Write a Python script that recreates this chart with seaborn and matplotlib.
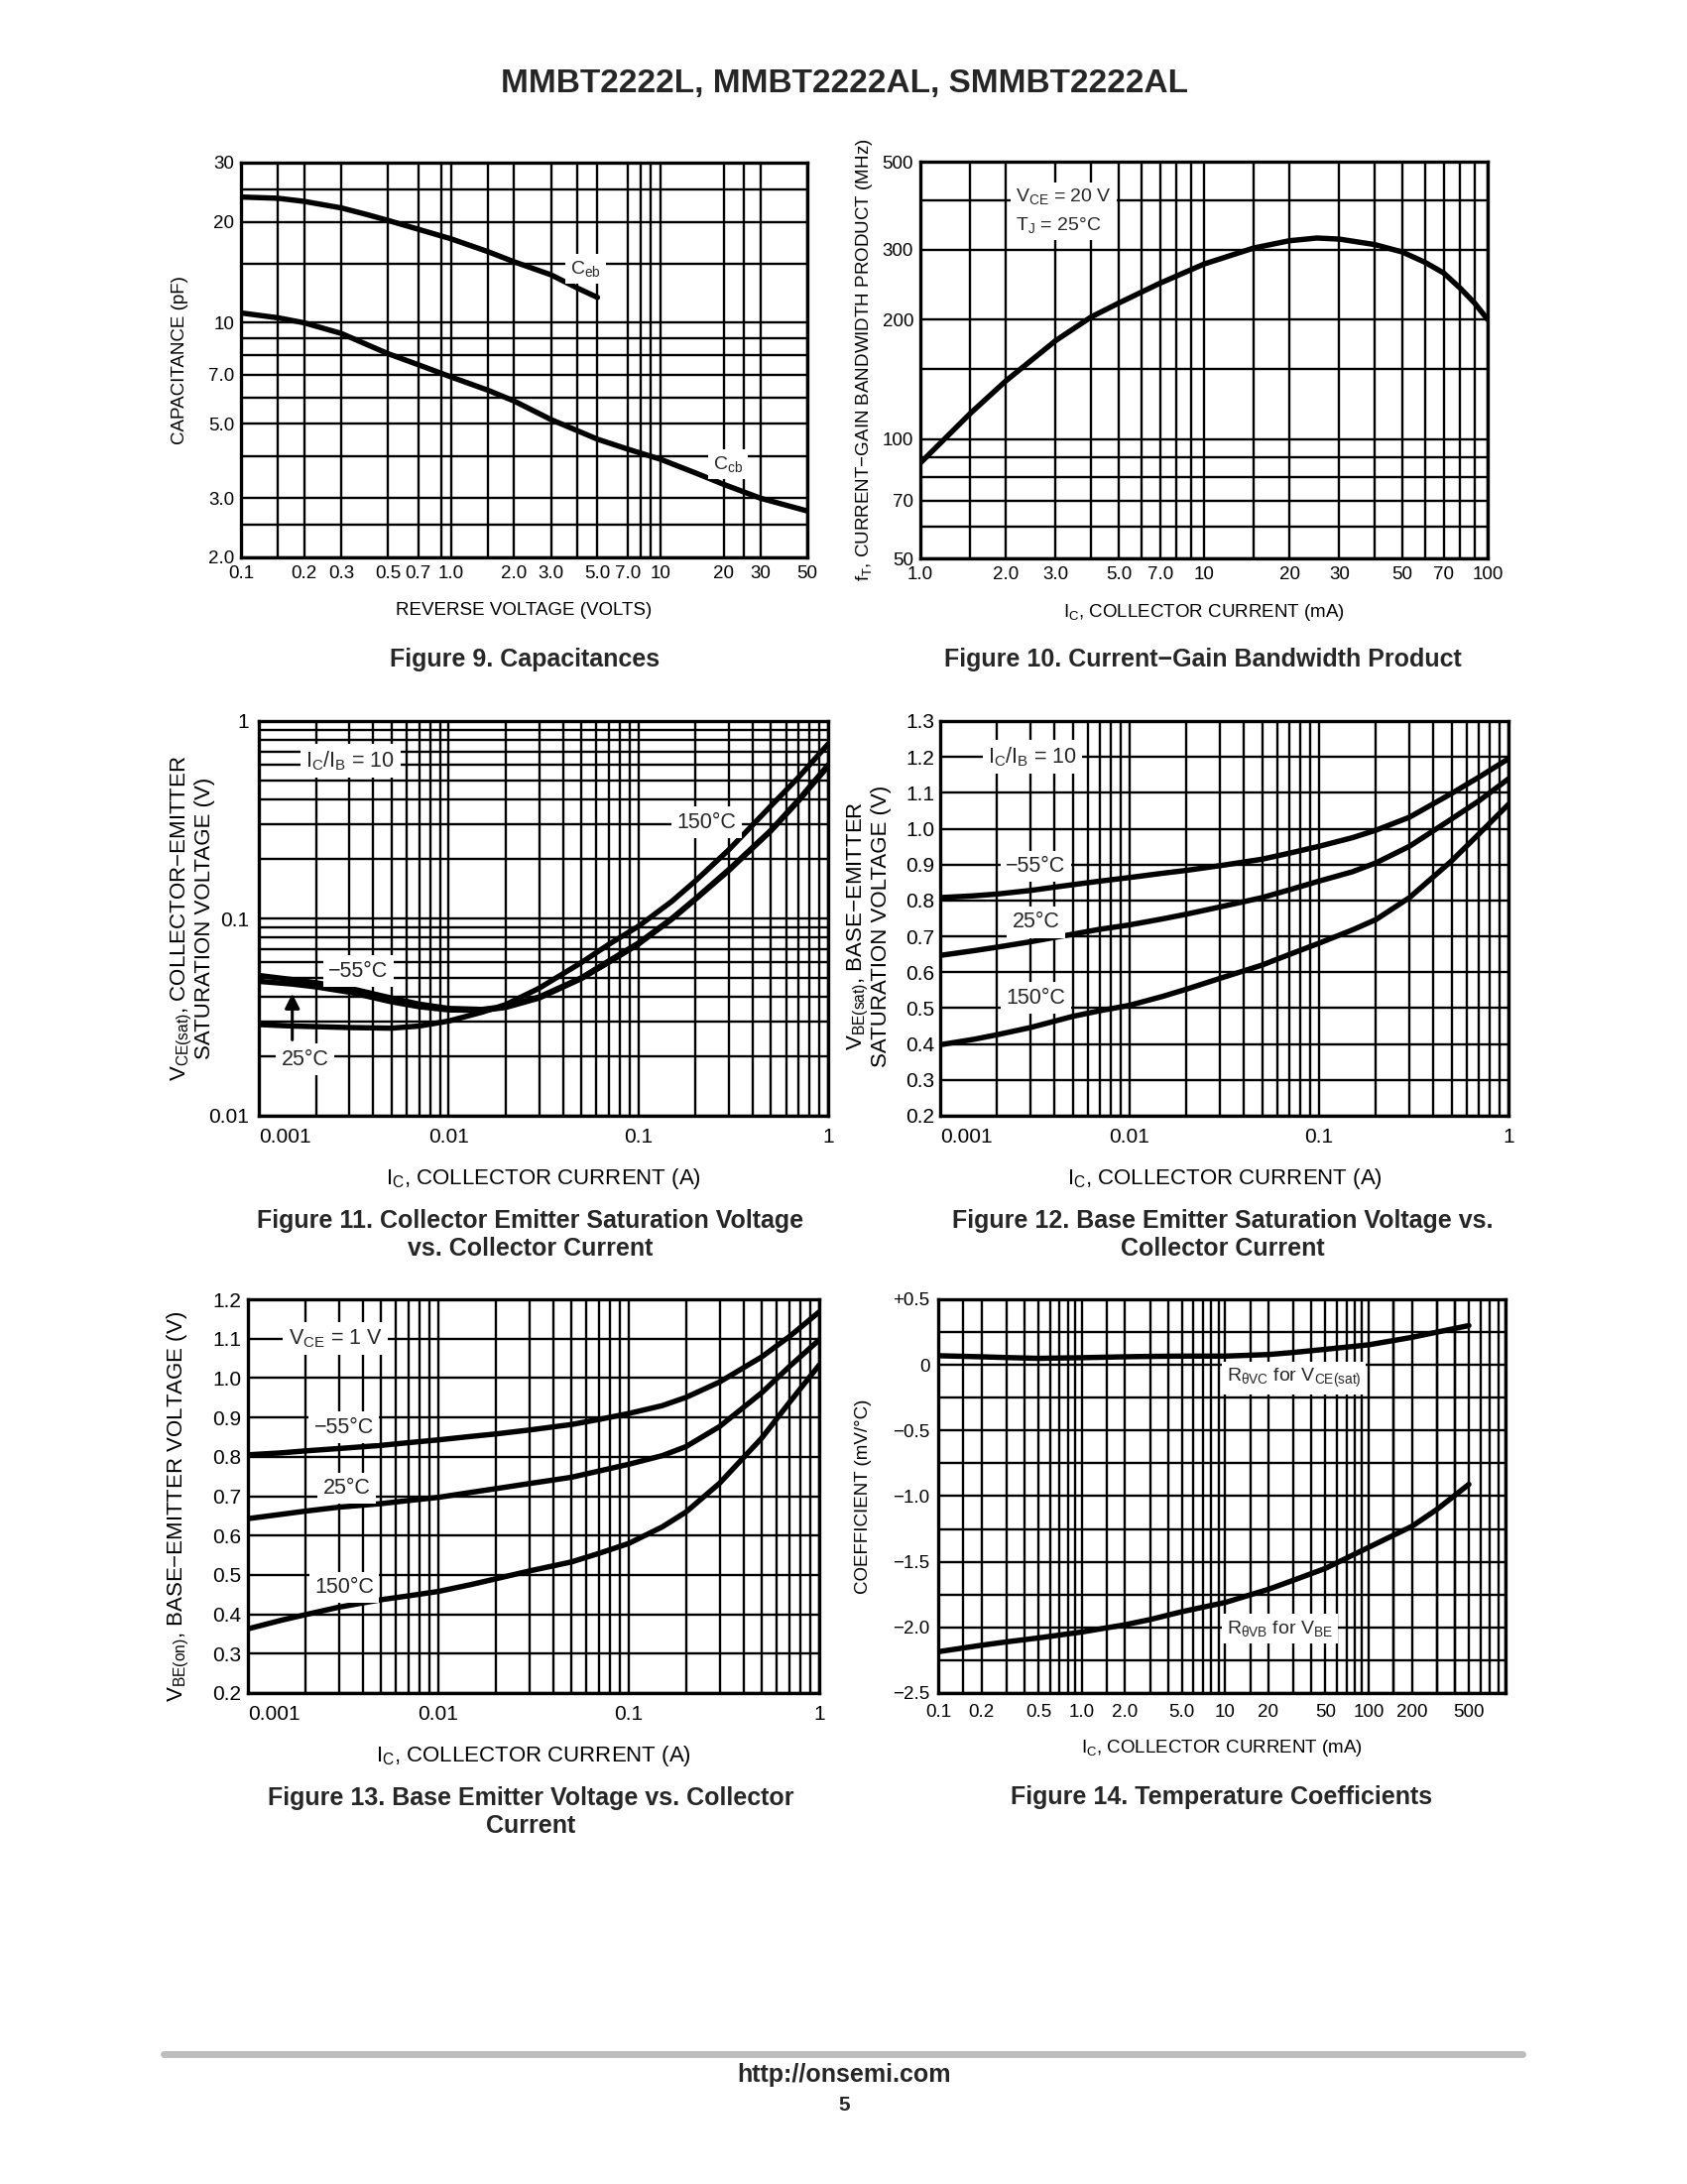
import matplotlib
matplotlib.use("Agg")
import matplotlib.pyplot as plt
import seaborn as sns
from matplotlib.lines import Line2D

# ---------------- data ----------------
# Figure 9: capacitance (pF) vs reverse voltage (V)
ceb_volts = [0.1, 0.15, 0.2, 0.3, 0.4, 0.5, 0.7, 1.0, 1.5, 2.0, 3.0, 4.0, 5.0]
ceb_pf = [23.7, 23.5, 23.0, 22.0, 21.0, 20.2, 19.0, 17.8, 16.3, 15.2, 13.9, 12.7, 11.9]
ccb_volts = [0.1, 0.15, 0.2, 0.3, 0.5, 0.7, 1.0, 1.5, 2.0, 3.0, 5.0, 7.0, 10, 15, 20, 30, 50]
ccb_pf = [10.7, 10.35, 10.0, 9.3, 8.1, 7.5, 6.9, 6.3, 5.85, 5.15, 4.5, 4.2, 3.92, 3.55, 3.3, 3.0, 2.75]

# Figure 10: fT (MHz) vs Ic (mA)
ft_ic_ma = [1.0, 1.5, 2.0, 3.0, 4.0, 5.0, 7.0, 10, 15, 20, 25, 30, 40, 50, 60, 70, 80, 90, 100]
ft_mhz = [87, 116, 140, 177, 203, 220, 247, 276, 303, 316, 321, 319, 309, 296, 279, 262, 240, 220, 200]

# Figures 11-13 share the same current points (A)
ic_amps = [0.001, 0.0015, 0.002, 0.003, 0.005, 0.007, 0.01, 0.015, 0.02, 0.03,
           0.05, 0.07, 0.1, 0.15, 0.2, 0.3, 0.5, 0.7, 1.0]
vcesat_m55 = [0.0514, 0.049, 0.0472, 0.0443, 0.0395, 0.0368, 0.035, 0.0346, 0.0358, 0.040,
              0.050, 0.061, 0.075, 0.100, 0.126, 0.177, 0.28, 0.40, 0.60]
vcesat_25 = [0.048, 0.0465, 0.045, 0.0423, 0.0378, 0.0357, 0.0344, 0.0342, 0.0354, 0.0395,
             0.0495, 0.060, 0.074, 0.099, 0.125, 0.175, 0.278, 0.395, 0.59]
vcesat_150 = [0.029, 0.0285, 0.0283, 0.028, 0.0278, 0.0285, 0.0302, 0.0335, 0.0366, 0.0443,
              0.0597, 0.074, 0.0912, 0.122, 0.155, 0.223, 0.372, 0.52, 0.765]

vbesat_m55 = [0.808, 0.813, 0.818, 0.828, 0.844, 0.854, 0.864, 0.876, 0.884, 0.897,
              0.915, 0.932, 0.951, 0.975, 0.996, 1.032, 1.098, 1.144, 1.195]
vbesat_25 = [0.647, 0.660, 0.670, 0.685, 0.706, 0.720, 0.732, 0.749, 0.762, 0.782,
             0.808, 0.830, 0.854, 0.880, 0.905, 0.951, 1.027, 1.078, 1.139]
vbesat_150 = [0.398, 0.413, 0.426, 0.446, 0.477, 0.493, 0.508, 0.533, 0.553, 0.583,
              0.620, 0.650, 0.681, 0.718, 0.747, 0.808, 0.910, 0.986, 1.068]

vbeon_m55 = [0.805, 0.810, 0.815, 0.821, 0.829, 0.836, 0.843, 0.852, 0.858, 0.868,
             0.882, 0.895, 0.910, 0.930, 0.951, 0.990, 1.054, 1.106, 1.168]
vbeon_25 = [0.643, 0.654, 0.662, 0.672, 0.681, 0.689, 0.697, 0.710, 0.719, 0.732,
            0.748, 0.764, 0.781, 0.803, 0.826, 0.877, 0.963, 1.030, 1.097]
vbeon_150 = [0.363, 0.385, 0.399, 0.418, 0.437, 0.447, 0.458, 0.476, 0.490, 0.510,
             0.533, 0.555, 0.580, 0.622, 0.660, 0.733, 0.848, 0.939, 1.033]

# Figure 14: temperature coefficients (mV/C) vs Ic (mA)
tc_ic_ma = [0.1, 0.2, 0.3, 0.5, 1.0, 2.0, 3.0, 5.0, 10, 20, 30, 50, 100, 200, 300, 500]
tc_vc = [0.07, 0.062, 0.056, 0.05, 0.055, 0.062, 0.065, 0.067, 0.067, 0.079, 0.095,
         0.119, 0.153, 0.21, 0.25, 0.30]
tc_vb = [-2.185, -2.136, -2.11, -2.08, -2.035, -1.98, -1.94, -1.88, -1.81, -1.71, -1.64,
         -1.55, -1.39, -1.23, -1.10, -0.91]

# ---------------- style ----------------
sns.set_theme(style="white")
plt.rcParams["font.family"] = ["Liberation Sans", "DejaVu Sans"]
plt.rcParams["mathtext.default"] = "regular"

NARROW = ["Liberation Sans Narrow", "Liberation Sans", "DejaVu Sans"]
REG = ["Liberation Sans", "DejaVu Sans"]
W, H = 1701, 2202

fig = plt.figure(figsize=(W / 100, H / 100), dpi=100)
fig.patch.set_facecolor("white")


def add_ax(x0, x1, y0, y1):
    # pixel box on the page -> figure fractions
    return fig.add_axes([x0 / W, 1 - y1 / H, (x1 - x0) / W, (y1 - y0) / H])


def style(ax, font, size, pad_x, pad_y):
    ax.set_facecolor("white")
    ax.set_axisbelow(True)
    ax.grid(True, which="both", color="black", lw=1.7)
    for s in ax.spines.values():
        s.set_visible(True)
        s.set_color("black")
        s.set_linewidth(2.4)
        s.set_zorder(4)
    ax.tick_params(which="both", length=0, colors="black")
    ax.tick_params(axis="x", pad=pad_x)
    ax.tick_params(axis="y", pad=pad_y)
    for lab in ax.get_xticklabels() + ax.get_yticklabels():
        lab.set_fontfamily(font)
        lab.set_fontsize(size)


def curve(ax, x, y):
    sns.lineplot(x=x, y=y, ax=ax, color="black", lw=3.9, zorder=3,
                 sort=False, estimator=None, legend=False)


def tag(ax, x, y, s, font, size, **kw):
    ax.text(x, y, s, fontfamily=font, fontsize=size, ha="center", va="center",
            zorder=6, bbox=dict(boxstyle="square,pad=0.25", fc="white", ec="none"), **kw)


def fig_text(x, y, s, **kw):
    fig.text(x / W, 1 - y / H, s, ha="center", va="center", **kw)


log_minor = [m * 10.0 ** e for e in range(-3, 0) for m in range(2, 10)]

# ---------------- Figure 9 ----------------
ax = add_ax(243, 814, 164, 562)
ax.set_xscale("log")
ax.set_yscale("log")
curve(ax, ceb_volts, ceb_pf)
curve(ax, ccb_volts, ccb_pf)
ax.set_xlim(0.1, 50)
ax.set_ylim(2, 30)
ax.set_xticks([0.1, 0.2, 0.3, 0.5, 0.7, 1.0, 2.0, 3.0, 5.0, 7.0, 10, 20, 30, 50],
              ["0.1", "0.2", "0.3", "0.5", "0.7", "1.0", "2.0", "3.0", "5.0", "7.0",
               "10", "20", "30", "50"])
ax.set_xticks([0.15, 0.9, 1.5, 4.0, 8.0, 9.0, 25], minor=True)
ax.set_xticklabels([], minor=True)
ax.set_yticks([2, 3, 5, 7, 10, 20, 30], ["2.0", "3.0", "5.0", "7.0", "10", "20", "30"])
ax.set_yticks([2.5, 4, 6, 8, 9, 15, 25], minor=True)
ax.set_yticklabels([], minor=True)
style(ax, NARROW, 13.5, 6, 5)
ax.set_xlabel("REVERSE VOLTAGE (VOLTS)", fontfamily=NARROW, fontsize=13.5, color="black")
ax.set_ylabel("CAPACITANCE (pF)", fontfamily=NARROW, fontsize=13.5, color="black")
ax.xaxis.set_label_coords(0.5, -0.114)
ax.yaxis.set_label_coords(-0.093, 0.5)
tag(ax, 4.4, 14.5, "C$_{eb}$", NARROW, 14)
tag(ax, 21, 3.8, "C$_{cb}$", NARROW, 14)

# ---------------- Figure 10 ----------------
ax = add_ax(928, 1500, 163, 563)
ax.set_xscale("log")
ax.set_yscale("log")
curve(ax, ft_ic_ma, ft_mhz)
ax.set_xlim(1, 100)
ax.set_ylim(50, 500)
ax.set_xticks([1, 2, 3, 5, 7, 10, 20, 30, 50, 70, 100],
              ["1.0", "2.0", "3.0", "5.0", "7.0", "10", "20", "30", "50", "70", "100"])
ax.set_xticks([1.5, 4, 6, 8, 9, 15, 40, 60, 80, 90], minor=True)
ax.set_xticklabels([], minor=True)
ax.set_yticks([50, 70, 100, 200, 300, 500], ["50", "70", "100", "200", "300", "500"])
ax.set_yticks([60, 80, 90, 150, 400], minor=True)
ax.set_yticklabels([], minor=True)
style(ax, NARROW, 13.5, 6, 5)
ax.set_xlabel("I$_C$, COLLECTOR CURRENT (mA)", fontfamily=NARROW, fontsize=13.5, color="black")
ax.set_ylabel("f$_T$, CURRENT\u2212GAIN BANDWIDTH PRODUCT (MHz)", fontfamily=NARROW,
              fontsize=13.5, color="black")
ax.xaxis.set_label_coords(0.5, -0.11)
ax.yaxis.set_label_coords(-0.081, 0.5)
tag(ax, 3.2, 375, "V$_{CE}$ = 20 V\nT$_J$ = 25\u00b0C", NARROW, 14,
    multialignment="left", linespacing=1.6)

# ---------------- Figure 11 ----------------
ax = add_ax(261, 835, 727, 1125)
ax.set_xscale("log")
ax.set_yscale("log")
curve(ax, ic_amps, vcesat_m55)
curve(ax, ic_amps, vcesat_25)
curve(ax, ic_amps, vcesat_150)
ax.set_xlim(0.001, 1)
ax.set_ylim(0.01, 1)
ax.set_xticks([0.001, 0.01, 0.1, 1], ["0.001", "0.01", "0.1", "1"])
ax.set_xticks(log_minor, minor=True)
ax.set_xticklabels([], minor=True)
ax.set_yticks([0.01, 0.1, 1], ["0.01", "0.1", "1"])
ax.set_yticks([m * 10.0 ** e for e in (-2, -1) for m in range(2, 10)], minor=True)
ax.set_yticklabels([], minor=True)
style(ax, REG, 15, 9, 7)
ax.xaxis.get_major_ticks()[0].label1.set_horizontalalignment("left")
ax.set_xlabel("I$_C$, COLLECTOR CURRENT (A)", fontfamily=REG, fontsize=16, color="black")
ax.set_ylabel("V$_{CE(sat)}$, COLLECTOR\u2212EMITTER\nSATURATION VOLTAGE (V)",
              fontfamily=REG, fontsize=16, color="black", linespacing=1.0)
ax.xaxis.set_label_coords(0.5, -0.128)
ax.yaxis.set_label_coords(-0.076, 0.5)
tag(ax, 0.00303, 0.63, "I$_C$/I$_B$ = 10", REG, 15.5)
tag(ax, 0.229, 0.307, "150\u00b0C", REG, 15.5)
tag(ax, 0.00335, 0.054, "\u221255\u00b0C", REG, 15.5)
tag(ax, 0.00175, 0.0193, "25\u00b0C", REG, 15.5)
ax.annotate("", xy=(0.0015, 0.043), xytext=(0.0015, 0.0235), zorder=6,
            arrowprops=dict(arrowstyle="-|>", color="black", lw=2.2, mutation_scale=22))

# ---------------- Figure 12 ----------------
ax = add_ax(948, 1521, 727, 1125)
ax.set_xscale("log")
curve(ax, ic_amps, vbesat_m55)
curve(ax, ic_amps, vbesat_25)
curve(ax, ic_amps, vbesat_150)
ax.set_xlim(0.001, 1)
ax.set_ylim(0.2, 1.3)
ax.set_xticks([0.001, 0.01, 0.1, 1], ["0.001", "0.01", "0.1", "1"])
ax.set_xticks(log_minor, minor=True)
ax.set_xticklabels([], minor=True)
yt = [0.2, 0.3, 0.4, 0.5, 0.6, 0.7, 0.8, 0.9, 1.0, 1.1, 1.2, 1.3]
ax.set_yticks(yt, [f"{v:.1f}" for v in yt])
style(ax, REG, 15, 9, 4)
ax.xaxis.get_major_ticks()[0].label1.set_horizontalalignment("left")
ax.set_xlabel("I$_C$, COLLECTOR CURRENT (A)", fontfamily=REG, fontsize=16, color="black")
ax.set_ylabel("V$_{BE(sat)}$, BASE\u2212EMITTER\nSATURATION VOLTAGE (V)",
              fontfamily=REG, fontsize=16, color="black", linespacing=1.0)
ax.xaxis.set_label_coords(0.5, -0.128)
ax.yaxis.set_label_coords(-0.085, 0.48)
tag(ax, 0.00307, 1.2, "I$_C$/I$_B$ = 10", REG, 15.5)
tag(ax, 0.0032, 0.895, "\u221255\u00b0C", REG, 15.5)
tag(ax, 0.0032, 0.74, "25\u00b0C", REG, 15.5)
tag(ax, 0.0032, 0.528, "150\u00b0C", REG, 15.5)

# ---------------- Figure 13 ----------------
ax = add_ax(250, 826, 1310, 1707)
ax.set_xscale("log")
curve(ax, ic_amps, vbeon_m55)
curve(ax, ic_amps, vbeon_25)
curve(ax, ic_amps, vbeon_150)
ax.set_xlim(0.001, 1)
ax.set_ylim(0.2, 1.2)
ax.set_xticks([0.001, 0.01, 0.1, 1], ["0.001", "0.01", "0.1", "1"])
ax.set_xticks(log_minor, minor=True)
ax.set_xticklabels([], minor=True)
yt = [0.2, 0.3, 0.4, 0.5, 0.6, 0.7, 0.8, 0.9, 1.0, 1.1, 1.2]
ax.set_yticks(yt, [f"{v:.1f}" for v in yt])
style(ax, REG, 15, 9, 5)
ax.xaxis.get_major_ticks()[0].label1.set_horizontalalignment("left")
ax.set_xlabel("I$_C$, COLLECTOR CURRENT (A)", fontfamily=REG, fontsize=16, color="black")
ax.set_ylabel("V$_{BE(on)}$, BASE\u2212EMITTER VOLTAGE (V)",
              fontfamily=REG, fontsize=16, color="black")
ax.xaxis.set_label_coords(0.5, -0.128)
ax.yaxis.set_label_coords(-0.099, 0.475)
tag(ax, 0.00287, 1.1, "V$_{CE}$ = 1 V", REG, 15.5)
tag(ax, 0.0032, 0.875, "\u221255\u00b0C", REG, 15.5)
tag(ax, 0.0033, 0.72, "25\u00b0C", REG, 15.5)
tag(ax, 0.0032, 0.468, "150\u00b0C", REG, 15.5)

# ---------------- Figure 14 ----------------
ax = add_ax(946, 1518, 1310, 1707)
ax.set_xscale("log")
curve(ax, tc_ic_ma, tc_vc)
curve(ax, tc_ic_ma, tc_vb)
ax.set_xlim(0.1, 500)
ax.set_ylim(-2.5, 0.5)
ax.set_xticks([0.1, 0.2, 0.5, 1, 2, 5, 10, 20, 50, 100, 200, 500],
              ["0.1", "0.2", "0.5", "1.0", "2.0", "5.0", "10", "20", "50", "100", "200", "500"])
ax.set_xticks([m * 10.0 ** e for e in range(-1, 3) for m in (1.5, 3, 4, 6, 7, 8, 9)]
              + [150, 300, 400], minor=True)
ax.set_xticklabels([], minor=True)
ax.set_yticks([-2.5, -2.0, -1.5, -1.0, -0.5, 0, 0.5],
              ["\u22122.5", "\u22122.0", "\u22121.5", "\u22121.0", "\u22120.5", "0", "+0.5"])
ax.set_yticks([-2.25, -1.75, -1.25, -0.75, -0.25, 0.25], minor=True)
ax.set_yticklabels([], minor=True)
style(ax, NARROW, 13.5, 8, 6)
ax.set_xlabel("I$_C$, COLLECTOR CURRENT (mA)", fontfamily=NARROW, fontsize=13.5, color="black")
ax.set_ylabel("COEFFICIENT (mV/\u00b0C)", fontfamily=NARROW, fontsize=13.5, color="black")
ax.xaxis.set_label_coords(0.5, -0.114)
ax.yaxis.set_label_coords(-0.118, 0.5)
tag(ax, 30, -0.1, "R$_{\u03b8VC}$ for V$_{CE(sat)}$", NARROW, 14)
tag(ax, 24, -2.007, "R$_{\u03b8VB}$ for V$_{BE}$", NARROW, 14)

# ---------------- page text ----------------
fig_text(851, 84, "MMBT2222L, MMBT2222AL, SMMBT2222AL", fontfamily=REG,
         fontsize=24, fontweight="bold")
cap = dict(fontfamily=REG, fontsize=18, fontweight="bold", linespacing=1.25)
fig_text(529, 665, "Figure 9. Capacitances", **cap)
fig_text(1213, 665, "Figure 10. Current\u2212Gain Bandwidth Product", **cap)
fig_text(535, 1245, "Figure 11. Collector Emitter Saturation Voltage\nvs. Collector Current", **cap)
fig_text(1233, 1245, "Figure 12. Base Emitter Saturation Voltage vs.\nCollector Current", **cap)
fig_text(535, 1827, "Figure 13. Base Emitter Voltage vs. Collector\nCurrent", **cap)
fig_text(1232, 1812, "Figure 14. Temperature Coefficients", **cap)

fig.add_artist(Line2D([165 / W, 1535 / W], [1 - 2071 / H] * 2, color="#bdbdbd",
                      lw=5, solid_capstyle="round"))
fig_text(851, 2092, "http://onsemi.com", fontfamily=REG, fontsize=18, fontweight="bold")
fig_text(851, 2122, "5", fontfamily=REG, fontsize=15, fontweight="bold")

fig.savefig("out.png", dpi=100, facecolor="white")
